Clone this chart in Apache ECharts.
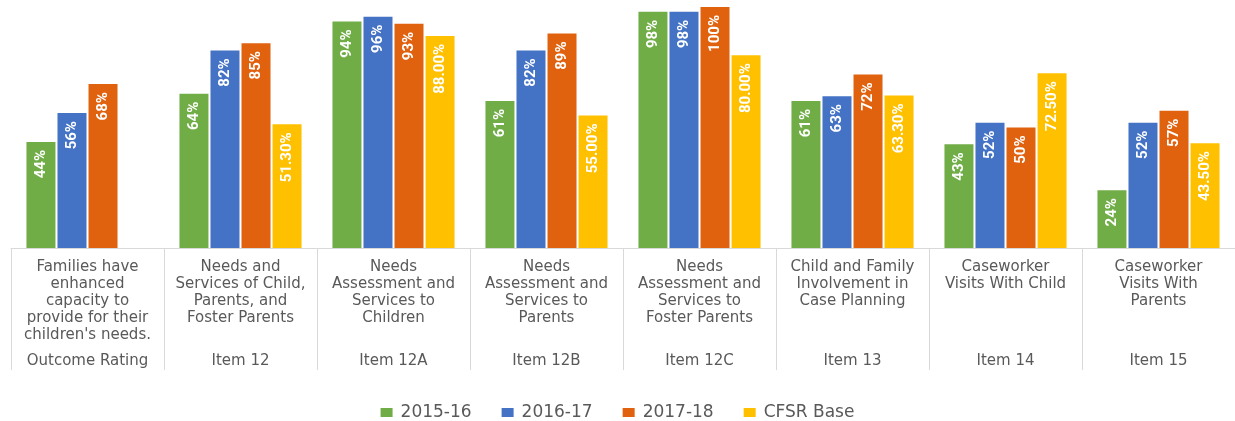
<!DOCTYPE html>
<html>
<head>
<meta charset="utf-8">
<script src="https://cdn.jsdelivr.net/npm/echarts@6/dist/echarts.min.js"></script>
<style>
  html, body { margin: 0; padding: 0; background: #fff; }
  #main { width: 1235px; height: 421px; }
</style>
</head>
<body>
<div id="main"></div>
<script>
// 类目（两级）
var topics = [
  'Families have\nenhanced\ncapacity to\nprovide for their\nchildren\'s needs.',
  'Needs and\nServices of Child,\nParents, and\nFoster Parents',
  'Needs\nAssessment and\nServices to\nChildren',
  'Needs\nAssessment and\nServices to\nParents',
  'Needs\nAssessment and\nServices to\nFoster Parents',
  'Child and Family\nInvolvement in\nCase Planning',
  'Caseworker\nVisits With Child',
  'Caseworker\nVisits With\nParents'
];
var items = ['Outcome Rating', 'Item 12', 'Item 12A', 'Item 12B', 'Item 12C', 'Item 13', 'Item 14', 'Item 15'];

// 系列数据
var seriesNames = ['2015-16', '2016-17', '2017-18', 'CFSR Base'];
var y2015 = [44, 64, 94, 61, 98, 61, 43, 24];
var y2016 = [56, 82, 96, 82, 98, 63, 52, 52];
var y2017 = [68, 85, 93, 89, 100, 72, 50, 57];
var cfsrBase = [null, 51.3, 88, 55, 80, 63.3, 72.5, 43.5];

var colors = ['#70ad47', '#4472c4', '#e0620f', '#ffc000'];

var chart = echarts.init(document.getElementById('main'));

function makeSeries(name, data, decimals) {
  return {
    name: name,
    type: 'bar',
    data: data,
    barWidth: 29,
    barGap: '7%',
    label: {
      show: true,
      position: 'insideTop',
      rotate: 90,
      align: 'right',
      verticalAlign: 'middle',
      distance: 8,
      color: '#fff',
      fontSize: 15,
      fontWeight: 'bold',
      fontFamily: "'Liberation Sans Narrow', Roboto, sans-serif",
      formatter: function (p) { return p.value.toFixed(decimals) + '%'; }
    }
  };
}

var option = {
  color: colors,
  animation: false,
  grid: { left: 11, top: 7, width: 1232, bottom: 173 },
  legend: {
    data: seriesNames,
    left: 'center',
    top: 399,
    icon: 'rect',
    itemWidth: 12,
    itemHeight: 9,
    itemGap: 30,
    textStyle: { fontFamily: 'DejaVu Sans', fontSize: 17, color: '#595959', padding: [0, 0, 0, 3] }
  },
  xAxis: [
    {
      type: 'category',
      data: topics,
      position: 'bottom',
      axisLine: { lineStyle: { color: '#d9d9d9' } },
      axisTick: { show: true, interval: 0, length: 122, lineStyle: { color: '#d9d9d9' } },
      axisLabel: {
        interval: 0,
        margin: 11,
        fontFamily: 'DejaVu Sans',
        fontSize: 15,
        lineHeight: 17,
        color: '#595959',
        align: 'center'
      }
    },
    {
      type: 'category',
      data: items,
      position: 'bottom',
      axisLine: { show: false },
      axisTick: { show: false },
      axisLabel: {
        interval: 0,
        margin: 105,
        fontFamily: 'DejaVu Sans',
        fontSize: 15,
        lineHeight: 17,
        color: '#595959'
      }
    }
  ],
  yAxis: { type: 'value', min: 0, max: 100, show: false },
  series: [
    makeSeries(seriesNames[0], y2015, 0),
    makeSeries(seriesNames[1], y2016, 0),
    makeSeries(seriesNames[2], y2017, 0),
    makeSeries(seriesNames[3], cfsrBase, 2)
  ]
};

chart.setOption(option);
</script>
</body>
</html>
